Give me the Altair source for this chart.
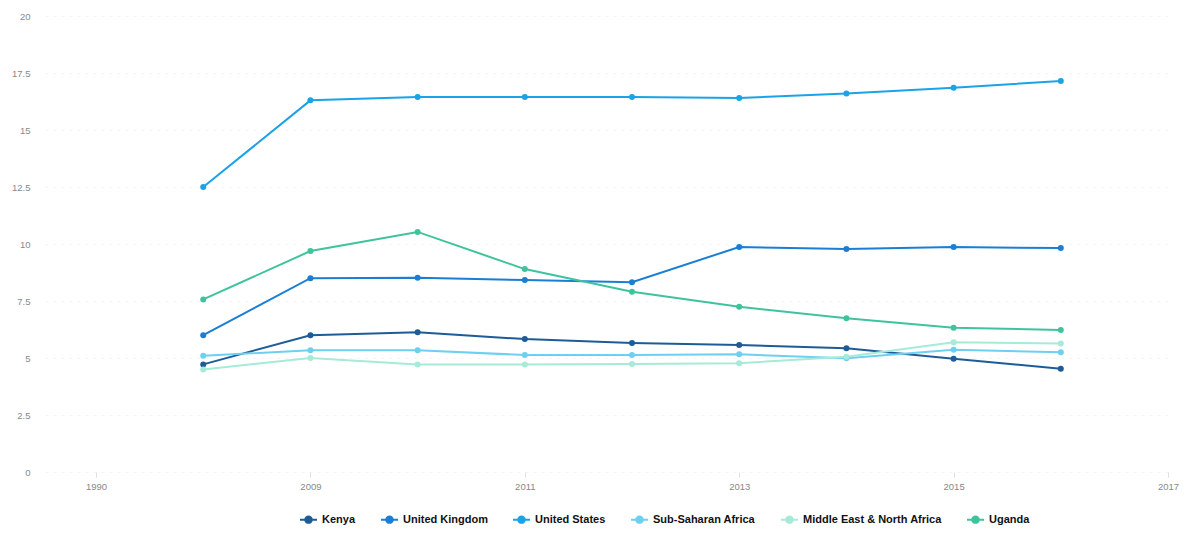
import altair as alt
import pandas as pd

x_categories = ["1990", "2008", "2009", "2010", "2011", "2012", "2013", "2014", "2015", "2016", "2017"]
x_tick_labels = ["1990", "2009", "2011", "2013", "2015", "2017"]
years = ["2008", "2009", "2010", "2011", "2012", "2013", "2014", "2015", "2016"]

series_names = ["Kenya", "United Kingdom", "United States", "Sub-Saharan Africa",
                "Middle East & North Africa", "Uganda"]
series_colors = ["#1d5c96", "#1a7fd4", "#1aa3e8", "#6fcff0", "#a6ead8", "#3fc39c"]

kenya = [4.72, 6.0, 6.13, 5.83, 5.66, 5.57, 5.43, 4.97, 4.53]
united_kingdom = [6.0, 8.5, 8.52, 8.42, 8.32, 9.87, 9.78, 9.87, 9.82]
united_states = [12.5, 16.3, 16.45, 16.45, 16.45, 16.4, 16.6, 16.85, 17.15]
sub_saharan_africa = [5.1, 5.34, 5.34, 5.13, 5.13, 5.16, 4.99, 5.36, 5.25]
mena = [4.5, 5.0, 4.72, 4.72, 4.74, 4.77, 5.06, 5.69, 5.64]
uganda = [7.57, 9.69, 10.53, 8.9, 7.91, 7.25, 6.74, 6.33, 6.23]

y_ticks = [0, 2.5, 5, 7.5, 10, 12.5, 15, 17.5, 20]

series_values = [kenya, united_kingdom, united_states, sub_saharan_africa, mena, uganda]
rows = []
for name, vals in zip(series_names, series_values):
    for yr, v in zip(years, vals):
        rows.append({"year": yr, "value": v, "series": name})
df = pd.DataFrame(rows)

x_enc = alt.X("year:O",
              scale=alt.Scale(type="point", domain=x_categories, padding=0.238, align=1.0),
              axis=alt.Axis(values=x_tick_labels, labelAngle=0, title=None, domain=False,
                            ticks=True, tickSize=5, tickColor="#e0e0e0",
                            labelColor="#888888", labelFontSize=9.5, labelPadding=4,
                            labelFont="Liberation Sans", grid=False))
y_enc = alt.Y("value:Q",
              scale=alt.Scale(domain=[0, 20], nice=False, zero=True),
              axis=alt.Axis(values=y_ticks, format=".1~f", title=None, domain=False, ticks=False,
                            labelColor="#888888", labelFontSize=9.5, labelPadding=15,
                            labelFont="Liberation Sans", grid=True, gridColor="#f4f4f4",
                            gridDash=[3, 5]))
color_enc = alt.Color("series:N",
                      scale=alt.Scale(domain=series_names, range=series_colors),
                      sort=series_names,
                      legend=alt.Legend(title=None, orient="none", direction="horizontal",
                                        legendX=254, legendY=494, columns=6,
                                        symbolType="M-1,0H1M-0.38,0A0.38,0.38 0 1,0 0.38,0A0.38,0.38 0 1,0 -0.38,0",
                                        symbolSize=289, symbolStrokeWidth=2,
                                        labelFont="Liberation Sans", labelFontSize=11,
                                        labelFontWeight="bold", labelColor="#111111",
                                        labelOffset=4, columnPadding=21, padding=0))

base = alt.Chart(df)
lines = base.mark_line(strokeWidth=2).encode(x=x_enc, y=y_enc, color=color_enc,
                                            order=alt.Order("year:O"))
points = base.mark_point(filled=True, size=36, opacity=1).encode(x=x_enc, y=y_enc, color=color_enc)

chart = alt.layer(lines, points).properties(
    width=1123, height=456,
    autosize=alt.AutoSizeParams(type="none"),
    padding={"left": 37, "top": 8, "right": 12, "bottom": 53},
    background="white",
).configure_view(stroke=None)

chart.save("out.html", embed_options={"renderer": "svg", "actions": False})
